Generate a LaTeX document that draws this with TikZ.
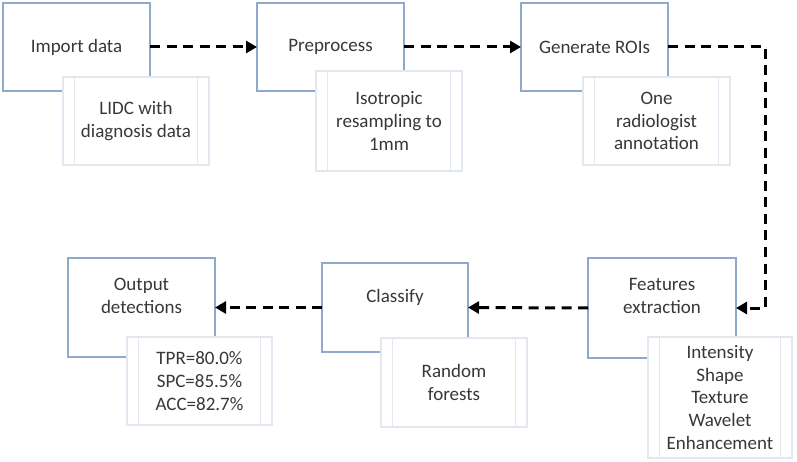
\documentclass[tikz,border=0pt]{standalone}
\usepackage{fontspec}
\setmainfont{Carlito}
\usetikzlibrary{arrows.meta}
\definecolor{boxc}{HTML}{8EA9C9}
\definecolor{subc}{HTML}{E3E7EF}
\definecolor{txtc}{HTML}{383838}
\begin{document}
\begin{tikzpicture}[x=1pt,y=-1pt,
 lbl/.style={text=txtc, font=\fontsize{19}{22.7}\selectfont, align=center},
 mainbox/.style={lbl, draw=boxc, line width=1.3pt, fill=white, anchor=north west, inner sep=0pt, outer sep=0pt},
 subbox/.style={lbl, draw=subc, line width=1.5pt, fill=white, anchor=north west, inner sep=0pt, outer sep=0pt,
   path picture={\draw[subc, line width=1.5pt]
     ([xshift=11.5pt]path picture bounding box.north west) -- ([xshift=11.5pt]path picture bounding box.south west)
     ([xshift=-11.5pt]path picture bounding box.north east) -- ([xshift=-11.5pt]path picture bounding box.south east);}},
 flow/.style={line width=3pt, dash pattern=on 10pt off 6.5pt, line join=miter, -{Triangle[length=11pt,width=12pt]}}
]
\useasboundingbox[fill=white] (0,0) rectangle (797,462);
% main boxes
\node[mainbox, minimum width=147pt, minimum height=88pt] (A) at (3,3) {Import data};
\node[mainbox, minimum width=147pt, minimum height=88pt] (B) at (257,3) {Preprocess};
\node[mainbox, minimum width=147pt, minimum height=88pt] (C) at (521,3) {Generate ROIs};
\node[mainbox, minimum width=148pt, minimum height=100pt] (F) at (588,258) {};
\node[mainbox, minimum width=146pt, minimum height=89pt] (K) at (322,263) {};
\node[mainbox, minimum width=147pt, minimum height=99pt] (O) at (68,258) {};
\node[lbl] (Ft) at (662,296) {Features\\extraction};
\node[lbl] (Kt) at (395,297) {Classify};
\node[lbl] (Ot) at (141.5,296) {Output\\detections};
% sub boxes
\node[subbox, minimum width=146pt, minimum height=88pt] (a) at (63,77) {LIDC with\\diagnosis data};
\node[subbox, minimum width=146pt, minimum height=100pt] (b) at (316,71) {Isotropic\\resampling to\\1mm};
\node[subbox, minimum width=147pt, minimum height=88pt] (c) at (583,77) {One\\radiologist\\annotation};
\node[subbox, minimum width=144pt, minimum height=121pt] (f) at (648,337) {Intensity\\Shape\\Texture\\Wavelet\\Enhancement};
\node[subbox, minimum width=146pt, minimum height=89pt] (k) at (381,338) {Random\\forests};
\node[subbox, minimum width=145pt, minimum height=88pt] (o) at (127,337) {TPR=80.0\%\\SPC=85.5\%\\ACC=82.7\%};
% connectors
\coordinate (corner) at (765,47);
\draw[flow] (A.east) -- (B.west);
\draw[flow] (B.east) -- (C.west);
\draw[flow] (C.east) -- (corner) |- (F.east);
\draw[flow] (F.west) -- (K.east);
\draw[flow] (K.west) -- (O.east);
\end{tikzpicture}
\end{document}
